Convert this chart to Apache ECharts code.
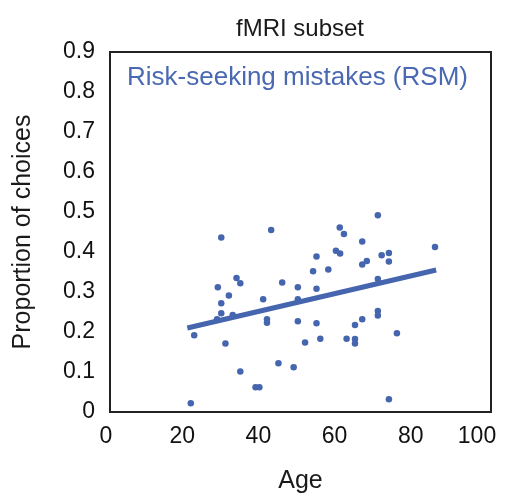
<!DOCTYPE html>
<html><head><meta charset="utf-8">
<script src="https://cdn.jsdelivr.net/npm/echarts@6/dist/echarts.min.js"></script>
<style>html,body{margin:0;padding:0;background:#fff}#c{width:506px;height:499px}</style>
</head><body><div id="c"></div>
<script>
const ages = [29.2,42.3,54.2,53.3,28.3,33.2,34.2,31.2,29.2,29.2,28.1,32.2,45.2,49.3,49.3,54.2,40.2,41.2,41.2,49.3,54.2,22.1,30.3,51.2,55.2,44.2,48.2,34.2,38.2,39.2,21.2,
  70.3,60.3,61.4,66.2,59.3,60.4,71.3,73.2,73.2,66.2,67.4,85.3,57.3,70.3,70.3,70.3,66.2,64.3,75.3,62.1,64.3,64.3,73.2];
const values = [0.436,0.455,0.389,0.352,0.312,0.335,0.322,0.291,0.272,0.247,0.232,0.2425,0.324,0.312,0.282,0.308,0.282,0.232,0.223,0.227,0.222,0.192,0.171,0.174,0.183,0.122,0.112,0.101,0.062,0.062,0.022,
  0.492,0.461,0.445,0.426,0.403,0.396,0.392,0.3975,0.376,0.369,0.3775,0.4125,0.356,0.3325,0.2525,0.241,0.232,0.2175,0.197,0.183,0.1825,0.171,0.032];
const fitAges = [20.3, 85.6];
const fitValues = [0.21, 0.355];
const xTicks = [0,20,40,60,80,100];
const yTicks = [0,0.1,0.2,0.3,0.4,0.5,0.6,0.7,0.8,0.9];

const FONT = 'Liberation Sans, Arial, sans-serif';
const BLUE = '#4565ae';
const chart = echarts.init(document.getElementById('c'));
chart.setOption({
  animation: false,
  title: [
    {text: 'fMRI subset', left: 295, top: 12, textAlign: 'center',
     textStyle: {fontFamily: FONT, fontSize: 24, fontWeight: 'normal', color: '#1a1a1a'}},
    {text: 'Risk-seeking mistakes (RSM)', left: 122, top: 60,
     textStyle: {fontFamily: FONT, fontSize: 26, fontWeight: 'normal', color: '#4a69b2'}}
  ],
  grid: {left: 110, right: 15, top: 52, bottom: 87, show: true, borderColor: '#222', borderWidth: 2},
  xAxis: {
    type: 'value', min: 0, max: 100, interval: 20,
    name: 'Age', nameLocation: 'middle', nameGap: 57,
    nameTextStyle: {fontFamily: FONT, fontSize: 25, color: '#1a1a1a'},
    axisLine: {show: false}, axisTick: {show: false}, splitLine: {show: false},
    axisLabel: {margin: 13,
      formatter: v => xTicks.includes(v) ? (v === 100 ? '{m|' + v + '}' : '{n|' + v + '}') : '',
      rich: {
        n: {fontFamily: FONT, fontSize: 23, color: '#111', padding: [0, 8, 0, 0]},
        m: {fontFamily: FONT, fontSize: 23, color: '#111', padding: [0, 28, 0, 0]}
      }}
  },
  yAxis: {
    type: 'value', min: 0, max: 0.9, interval: 0.1,
    name: 'Proportion of choices', nameLocation: 'middle', nameGap: 74,
    nameTextStyle: {fontFamily: FONT, fontSize: 25, color: '#1a1a1a'},
    axisLine: {show: false}, axisTick: {show: false}, splitLine: {show: false},
    axisLabel: {fontFamily: FONT, fontSize: 23, color: '#111', margin: 15,
      formatter: v => { const t = yTicks.find(y => Math.abs(y - v) < 1e-6); return t === 0 ? '0' : (t !== undefined ? t.toFixed(1) : ''); }}
  },
  series: [
    {type: 'scatter', data: ages.map((a, i) => [a, values[i]]), symbolSize: 6.5,
     itemStyle: {color: BLUE, opacity: 1}, z: 2},
    {type: 'line', data: fitAges.map((a, i) => [a, fitValues[i]]), symbol: 'none',
     lineStyle: {color: BLUE, width: 5}, z: 3}
  ]
});
</script></body></html>
